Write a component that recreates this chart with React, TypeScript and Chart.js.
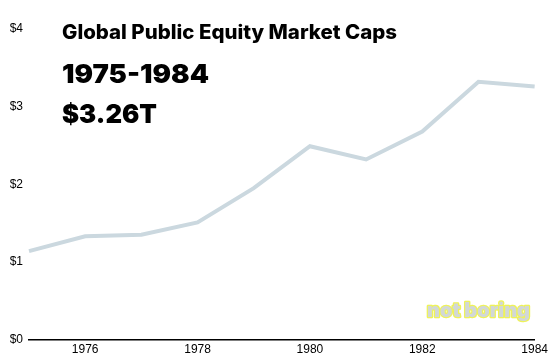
import React, { useEffect, useRef } from "react";
import { Chart, registerables } from "chart.js";

Chart.register(...registerables);

const years = ["1975", "1976", "1977", "1978", "1979", "1980", "1981", "1982", "1983", "1984"];
const marketCapsT = [1.14, 1.33, 1.35, 1.51, 1.95, 2.49, 2.32, 2.68, 3.32, 3.26];
const shownYears = ["1976", "1978", "1980", "1982", "1984"];
const titleText = "Global Public Equity Market Caps";
const periodText = "1975-1984";
const valueText = "$3.26T";
const watermarkText = "not boring";

function fitText(ctx: CanvasRenderingContext2D, text: string, x: number, y: number, width: number, mode: "fill" | "both") {
  const w = ctx.measureText(text).width;
  ctx.save();
  ctx.translate(x, y);
  ctx.scale(width / w, 1);
  if (mode === "both") {
    ctx.strokeText(text, 0, 0);
  }
  ctx.fillText(text, 0, 0);
  ctx.restore();
}

const overlayPlugin = {
  id: "overlayText",
  afterDraw(chart: any) {
    const ctx: CanvasRenderingContext2D = chart.ctx;
    ctx.save();
    ctx.textBaseline = "alphabetic";
    ctx.textAlign = "left";
    ctx.fillStyle = "#000";
    ctx.font = "800 20px Inter, 'Noto Sans', sans-serif";
    fitText(ctx, titleText, 62, 39, 335, "fill");
    ctx.font = "900 26px Inter, 'Noto Sans', sans-serif";
    fitText(ctx, periodText, 62, 83, 147, "fill");
    fitText(ctx, valueText, 62, 123, 95, "fill");
    ctx.font = "900 20px Inter, 'Noto Sans', sans-serif";
    ctx.lineWidth = 2.5;
    ctx.lineJoin = "round";
    ctx.strokeStyle = "#eef25a";
    ctx.fillStyle = "#d2d8d6";
    fitText(ctx, watermarkText, 427, 317, 103, "both");
    ctx.restore();
  },
};

export default function App() {
  const ref = useRef<HTMLCanvasElement>(null);
  useEffect(() => {
    document.body.style.margin = "0";
    const chart = new Chart(ref.current!, {
      type: "line",
      data: {
        labels: years,
        datasets: [
          {
            data: marketCapsT,
            borderColor: "#cbd8df",
            borderWidth: 4,
            pointRadius: 0,
            tension: 0,
            fill: false,
          },
        ],
      },
      options: {
        animation: false,
        responsive: false,
        layout: { padding: { left: 10, right: 16, top: 29, bottom: 3 } },
        plugins: { legend: { display: false }, tooltip: { enabled: false } },
        scales: {
          x: {
            offset: false,
            grid: { display: false, drawTicks: false },
            border: { display: true, color: "#000", width: 1.5 },
            ticks: {
              autoSkip: false,
              maxRotation: 0,
              padding: 3,
              color: "#000",
              font: { family: "'Liberation Sans', Arial, sans-serif", size: 12 },
              callback: (v: any, i: number) => (shownYears.includes(years[i]) ? years[i] : ""),
            },
          },
          y: {
            min: 0,
            max: 4,
            grid: { display: false, drawTicks: false },
            border: { display: false },
            afterFit: (s: any) => {
              s.width = 19;
            },
            ticks: {
              stepSize: 1,
              padding: 6,
              color: "#000",
              font: { family: "'Liberation Sans', Arial, sans-serif", size: 12 },
              callback: (v: any) => "$" + v,
            },
          },
        },
      },
      plugins: [overlayPlugin],
    });
    return () => chart.destroy();
  }, []);
  return (
    <div style={{ width: 551, height: 363 }}>
      <canvas ref={ref} width={551} height={363} style={{ display: "block" }} />
    </div>
  );
}
